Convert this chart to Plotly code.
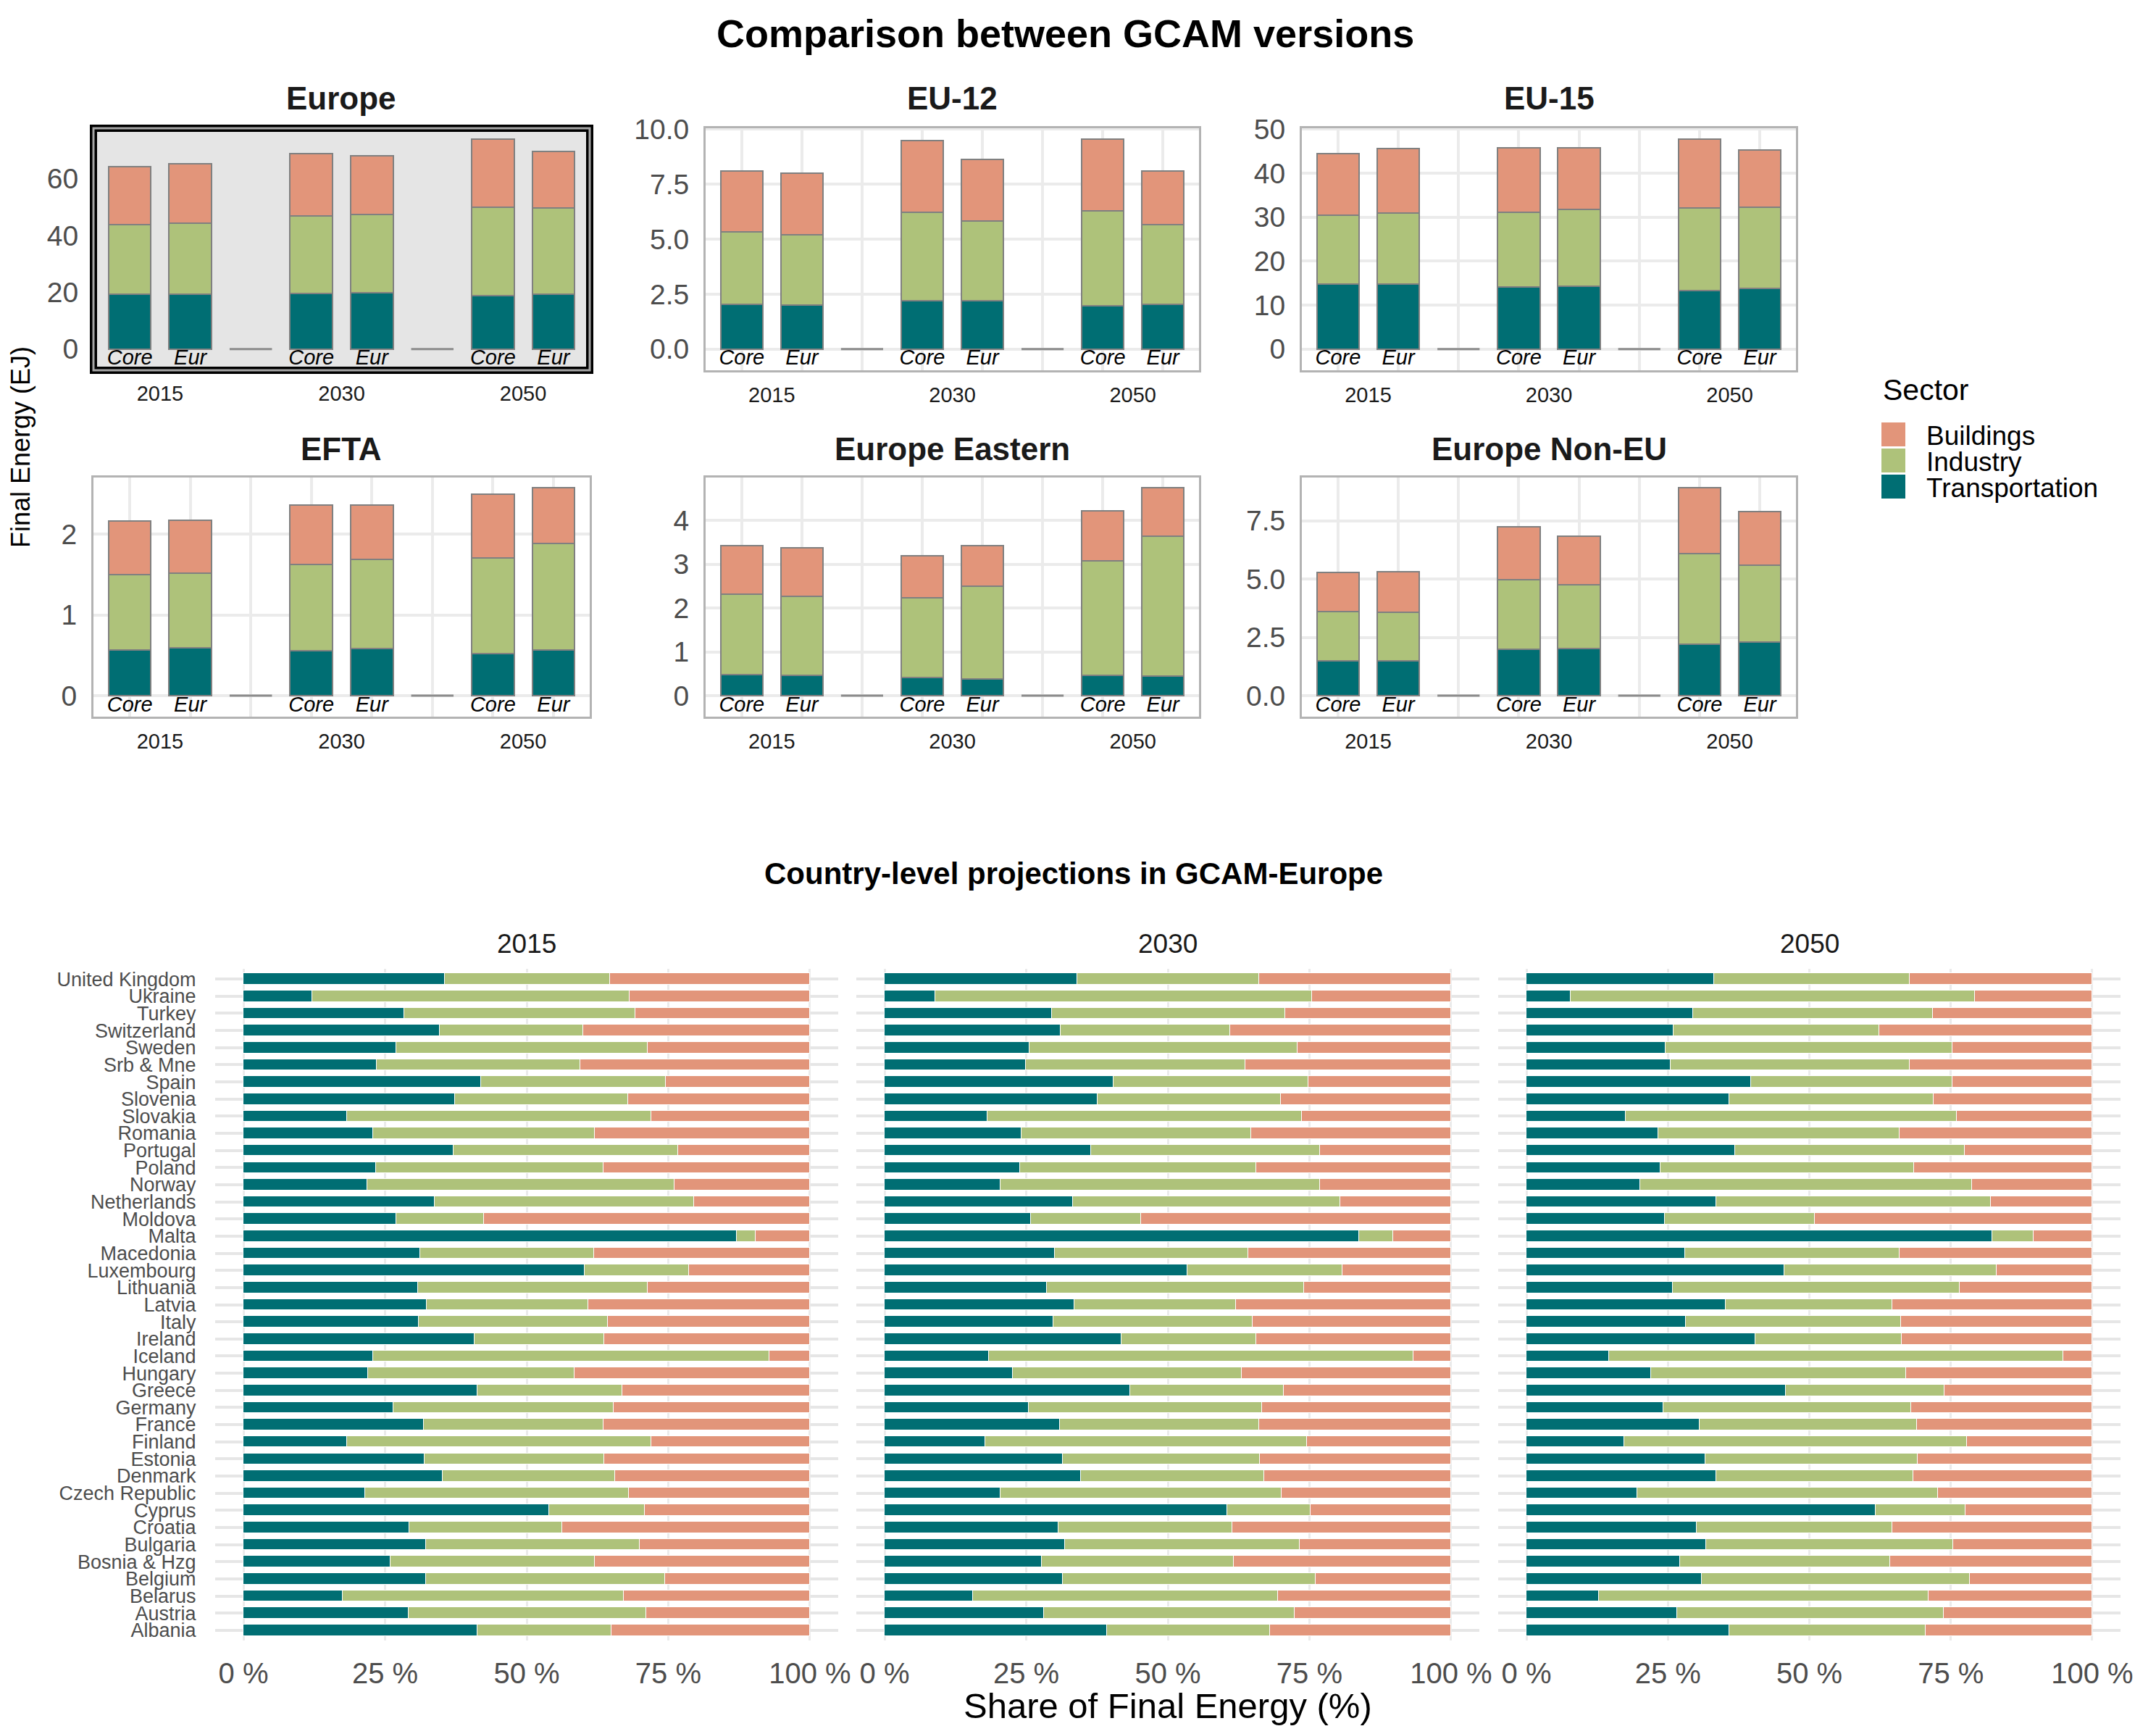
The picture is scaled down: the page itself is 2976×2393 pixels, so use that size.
import plotly.graph_objects as go

FONT = "Liberation Sans, Arial, sans-serif"
W, H = 2976, 2393

sectors = ["Transportation", "Industry", "Buildings"]
colors = {"Transportation": "#006e73", "Industry": "#aec27a", "Buildings": "#e2957a"}

# ---- top part: regional totals (EJ), order Core2015, Eur2015, Core2030, Eur2030, Core2050, Eur2050
regions = ["Europe", "EU-12", "EU-15", "EFTA", "Europe Eastern", "Europe Non-EU"]
years = ["2015", "2030", "2050"]
versions = ["Core", "Eur"]

trn = {
    "Europe": [19.4, 19.4, 19.5, 19.7, 18.7, 19.3],
    "EU-12": [2.03, 2.01, 2.19, 2.19, 1.97, 2.03],
    "EU-15": [14.7, 14.7, 14.2, 14.3, 13.3, 13.8],
    "EFTA": [0.57, 0.59, 0.56, 0.58, 0.52, 0.57],
    "Europe Eastern": [0.48, 0.47, 0.41, 0.38, 0.47, 0.44],
    "Europe Non-EU": [1.50, 1.50, 1.99, 2.01, 2.22, 2.29],
}
ind = {
    "Europe": [24.4, 24.8, 27.4, 27.6, 31.3, 30.4],
    "EU-12": [3.29, 3.18, 4.03, 3.62, 4.30, 3.64],
    "EU-15": [15.7, 16.2, 16.9, 17.5, 18.8, 18.4],
    "EFTA": [0.93, 0.93, 1.06, 1.11, 1.18, 1.31],
    "Europe Eastern": [1.83, 1.80, 1.83, 2.12, 2.60, 3.20],
    "Europe Non-EU": [2.12, 2.08, 2.97, 2.74, 3.88, 3.30],
}
bld = {
    "Europe": [20.4, 21.0, 21.9, 20.8, 24.0, 19.8],
    "EU-12": [2.78, 2.79, 3.25, 2.80, 3.29, 2.41],
    "EU-15": [14.0, 14.6, 14.6, 14.0, 15.7, 13.1],
    "EFTA": [0.66, 0.65, 0.74, 0.67, 0.79, 0.69],
    "Europe Eastern": [1.12, 1.11, 0.95, 0.93, 1.14, 1.10],
    "Europe Non-EU": [1.66, 1.75, 2.29, 2.10, 2.81, 2.29],
}
spacer = [0, 0]
ytick_step = {"Europe": 20, "EU-12": 2.5, "EU-15": 10, "EFTA": 1,
              "Europe Eastern": 1, "Europe Non-EU": 2.5}
ytick_fmt = {"Europe": "d", "EU-12": ".1f", "EU-15": "d", "EFTA": "d",
             "Europe Eastern": "d", "Europe Non-EU": ".1f"}

# ---- bottom part: country shares (%), GCAM-Europe
countries = ["United Kingdom", "Ukraine", "Turkey", "Switzerland", "Sweden", "Srb & Mne",
             "Spain", "Slovenia", "Slovakia", "Romania", "Portugal", "Poland", "Norway",
             "Netherlands", "Moldova", "Malta", "Macedonia", "Luxembourg", "Lithuania",
             "Latvia", "Italy", "Ireland", "Iceland", "Hungary", "Greece", "Germany",
             "France", "Finland", "Estonia", "Denmark", "Czech Republic", "Cyprus",
             "Croatia", "Bulgaria", "Bosnia & Hzg", "Belgium", "Belarus", "Austria", "Albania"]

trn_share = {
    "2015": [35.6, 12.1, 28.4, 34.6, 27.0, 23.5, 41.9, 37.4, 18.3, 22.9, 37.1, 23.4, 21.8,
             33.8, 27.0, 87.1, 31.2, 60.2, 30.8, 32.4, 30.9, 40.8, 22.9, 22.0, 41.3, 26.5,
             31.8, 18.3, 32.0, 35.1, 21.5, 54.0, 29.3, 32.2, 26.0, 32.2, 17.5, 29.2, 41.3],
    "2030": [34.0, 8.9, 29.5, 31.1, 25.6, 24.9, 40.4, 37.6, 18.2, 24.1, 36.5, 23.9, 20.5,
             33.3, 25.8, 83.8, 30.0, 53.5, 28.6, 33.5, 29.8, 41.8, 18.4, 22.6, 43.4, 25.4,
             31.0, 17.8, 31.4, 34.6, 20.5, 60.5, 30.7, 31.9, 27.8, 31.4, 15.6, 28.1, 39.3],
    "2050": [33.2, 7.8, 29.4, 26.0, 24.6, 25.5, 39.7, 35.8, 17.6, 23.3, 36.9, 23.7, 20.1,
             33.6, 24.5, 82.3, 28.1, 45.6, 25.8, 35.2, 28.2, 40.4, 14.6, 22.0, 45.8, 24.2,
             30.6, 17.3, 31.6, 33.6, 19.6, 61.7, 30.1, 31.7, 27.1, 31.0, 12.8, 26.6, 35.9],
}
ind_share = {
    "2015": [29.1, 56.0, 40.8, 25.4, 44.4, 36.0, 32.6, 30.5, 53.7, 39.1, 39.6, 40.1, 54.3,
             45.7, 15.5, 3.3, 30.7, 18.5, 40.6, 28.5, 33.4, 22.9, 69.9, 36.5, 25.6, 38.9,
             31.7, 53.7, 31.7, 30.5, 46.5, 16.8, 27.0, 37.7, 36.0, 42.2, 49.7, 41.9, 23.7],
    "2030": [32.1, 66.6, 41.2, 29.9, 47.3, 38.8, 34.4, 32.3, 55.5, 40.6, 40.4, 41.7, 56.4,
             47.1, 19.5, 6.0, 34.2, 27.3, 45.4, 28.5, 35.2, 23.8, 74.9, 40.4, 27.1, 41.2,
             35.1, 56.7, 34.8, 32.4, 49.6, 14.7, 30.7, 41.4, 33.8, 44.7, 53.9, 44.3, 28.7],
    "2050": [34.5, 71.4, 42.4, 36.3, 50.7, 42.2, 35.6, 36.1, 58.4, 42.7, 40.6, 44.8, 58.6,
             48.5, 26.4, 7.3, 37.8, 37.5, 50.8, 29.5, 38.0, 25.9, 80.3, 45.1, 28.1, 43.8,
             38.4, 60.6, 37.6, 34.8, 53.1, 15.9, 34.6, 43.7, 37.2, 47.3, 58.3, 47.1, 34.6],
}
pct_ticks = [0, 25, 50, 75, 100]

# ---- layout geometry (pixels of the 2976 x 2393 page); OFF = page body margin
OFF = 8
top_cols = [(129, 814), (974, 1655), (1797, 2479)]
top_rows = [(177, 511), (659, 989)]
bot_cols = [(297, 1157), (1182, 2042), (2068, 2927)]
bot_row = (1337, 2264)


def px(x):
    return (x - OFF) / W


def py(y):
    return 1 - (y - OFF) / H


def fx(a, b):
    return [px(a), px(b)]


def fy(a, b):
    return [py(b), py(a)]


fig = go.Figure()
shapes = []
annotations = []
BAR_W = 0.7

for i, reg in enumerate(regions):
    n = i + 1
    xr = "x" if n == 1 else f"x{n}"
    yr = "y" if n == 1 else f"y{n}"
    # slots: Core, Eur, (gap), Core, Eur, (gap), Core, Eur
    xpos = [yi * 3 + vi + 1 for yi in range(len(years)) for vi in range(len(versions))]
    vals = {"Transportation": trn[reg], "Industry": ind[reg], "Buildings": bld[reg]}
    for s in sectors:
        fig.add_trace(go.Bar(
            x=xpos, y=vals[s], width=BAR_W, name=s, showlegend=False,
            marker=dict(color=colors[s], line=dict(color="#808080", width=2)),
            xaxis=xr, yaxis=yr))
    # empty spacer categories drawn as flat grey strokes at zero
    gap_x, gap_y = [], []
    for k, v in enumerate(spacer):
        c = (k + 1) * 3
        gap_x += [c - BAR_W / 2, c + BAR_W / 2, None]
        gap_y += [v, v, None]
    fig.add_trace(go.Scatter(x=gap_x, y=gap_y, mode="lines", showlegend=False,
                             line=dict(color="#8c8c8c", width=3), xaxis=xr, yaxis=yr,
                             hoverinfo="skip"))
    fig.add_trace(go.Scatter(
        x=xpos, y=[0] * len(xpos), mode="text", showlegend=False,
        text=[f"<i>{v}</i>" for _ in years for v in versions],
        textposition="bottom center",
        textfont=dict(family=FONT, size=29, color="#000000"),
        xaxis=xr, yaxis=yr, hoverinfo="skip"))

    totals = [a + b + c for a, b, c in zip(trn[reg], ind[reg], bld[reg])]
    top = max(totals) * 1.05
    col, row = i % 3, i // 3
    is_eur = reg == "Europe"
    fig.update_layout(**{
        ("xaxis" if n == 1 else f"xaxis{n}"): dict(
            domain=fx(*top_cols[col]), anchor=yr, range=[0.4, 8.6], automargin=False,
            tickmode="array", tickvals=[1.5, 4.5, 7.5], ticktext=years,
            tickfont=dict(family=FONT, size=29, color="#1a1a1a"),
            showgrid=False, zeroline=False,
            showline=not is_eur, mirror=True, linecolor="#b3b3b3", linewidth=3,
            ticks="outside", ticklen=6, tickcolor="rgba(0,0,0,0)",
            minor=dict(tickmode="array", tickvals=list(range(1, 9)),
                       showgrid=not is_eur, gridcolor="#ebebeb", gridwidth=4, ticks=""),
            fixedrange=True),
        ("yaxis" if n == 1 else f"yaxis{n}"): dict(
            domain=fy(*top_rows[row]), anchor=xr, range=[-0.096 * top, top],
            automargin=False,
            dtick=ytick_step[reg], tick0=0, tickformat=ytick_fmt[reg],
            tickfont=dict(family=FONT, size=39, color="#4d4d4d"),
            showgrid=not is_eur, gridcolor="#ebebeb", gridwidth=4, zeroline=False,
            showline=not is_eur, mirror=True, linecolor="#b3b3b3", linewidth=3,
            ticks="outside", ticklen=12, tickcolor="rgba(0,0,0,0)"),
    })
    cx = px((top_cols[col][0] + top_cols[col][1]) / 2)
    ty = [135, 619][row]
    annotations.append(dict(text=f"<b>{reg}</b>", x=cx, y=py(ty), xref="paper",
                            yref="paper", showarrow=False, xanchor="center",
                            yanchor="middle", font=dict(family=FONT, size=44, color="#1a1a1a")))
    if is_eur:
        shapes.append(dict(type="rect", xref=f"{xr} domain", yref=f"{yr} domain",
                           x0=0, x1=1, y0=0, y1=1, fillcolor="#e5e5e5",
                           line=dict(width=0), layer="below"))
        shapes.append(dict(type="rect", xref=f"{xr} domain", yref=f"{yr} domain",
                           x0=0, x1=1, y0=0, y1=1, line=dict(color="#000000", width=10),
                           layer="above"))
        shapes.append(dict(type="rect", xref=f"{xr} domain", yref=f"{yr} domain",
                           x0=0, x1=1, y0=0, y1=1, line=dict(color="#a6a6a6", width=3),
                           layer="above"))

# ---- bottom panels
for j, yr_lab in enumerate(years):
    n = 7 + j
    xr, yr = f"x{n}", f"y{n}"
    t = trn_share[yr_lab]
    d = ind_share[yr_lab]
    b = [round(100 - a - c, 1) for a, c in zip(t, d)]
    for s, v in zip(sectors, [t, d, b]):
        fig.add_trace(go.Bar(
            y=countries, x=v, orientation="h", width=0.66, name=s, showlegend=False,
            marker=dict(color=colors[s], line=dict(color="#ffffff", width=1.5)),
            xaxis=xr, yaxis=yr))
    fig.update_layout(**{
        f"xaxis{n}": dict(
            domain=fx(*bot_cols[j]), anchor=yr, range=[-5, 105], automargin=False,
            tickmode="array", tickvals=pct_ticks, ticktext=[f"{p} %" for p in pct_ticks],
            tickfont=dict(family=FONT, size=40, color="#4d4d4d"),
            showgrid=True, gridcolor="#ebebeb", gridwidth=3, zeroline=False,
            showline=False, ticks="outside", ticklen=10, tickcolor="rgba(0,0,0,0)"),
        f"yaxis{n}": dict(
            domain=fy(*bot_row), anchor=xr, type="category", automargin=False,
            categoryorder="array", categoryarray=countries[::-1],
            range=[-0.6, len(countries) - 0.4],
            tickmode="array", tickvals=countries,
            showticklabels=(j == 0), matches=None if j == 0 else "y7",
            tickfont=dict(family=FONT, size=27, color="#4d4d4d"),
            showgrid=True, gridcolor="#e6e6e6", gridwidth=4, zeroline=False,
            showline=False, ticks="outside" if j == 0 else "", ticklen=20,
            tickcolor="rgba(0,0,0,0)"),
    })
    cx = px((bot_cols[j][0] + bot_cols[j][1]) / 2)
    annotations.append(dict(text=yr_lab, x=cx, y=py(1302), xref="paper", yref="paper",
                            showarrow=False, xanchor="center", yanchor="middle",
                            font=dict(family=FONT, size=37, color="#1a1a1a")))

# ---- titles
annotations += [
    dict(text="<b>Comparison between GCAM versions</b>", x=px(1470), y=py(46),
         font=dict(family=FONT, size=54, color="#000000")),
    dict(text="Final Energy (EJ)", x=px(28), y=py(617), textangle=-90,
         font=dict(family=FONT, size=36, color="#000000")),
    dict(text="<b>Country-level projections in GCAM-Europe</b>", x=px(1482), y=py(1205),
         font=dict(family=FONT, size=42, color="#000000")),
    dict(text="Share of Final Energy (%)", x=px(1612), y=py(2354),
         font=dict(family=FONT, size=49, color="#000000")),
]
for a in annotations[-4:]:
    a.update(xref="paper", yref="paper", showarrow=False, xanchor="center", yanchor="middle")

# ---- legend (Sector)
leg_x0, leg_top = 2597, 583
sw, gap = 33, 3
annotations.append(dict(text="Sector", x=px(leg_x0), y=py(538), xref="paper",
                        yref="paper", showarrow=False, xanchor="left", yanchor="middle",
                        font=dict(family=FONT, size=41, color="#000000")))
for k, s in enumerate(sectors[::-1]):
    y0 = leg_top + k * (sw + gap)
    shapes.append(dict(type="rect", xref="paper", yref="paper",
                       x0=px(leg_x0), x1=px(leg_x0 + sw),
                       y0=py(y0 + sw), y1=py(y0),
                       fillcolor=colors[s], line=dict(width=0)))
    annotations.append(dict(text=s, x=px(2657), y=py(y0 + sw / 2 + 2), xref="paper",
                            yref="paper", showarrow=False, xanchor="left", yanchor="middle",
                            font=dict(family=FONT, size=37, color="#000000")))

fig.update_layout(
    width=W, height=H, barmode="stack", bargap=0,
    margin=dict(l=0, r=0, t=0, b=0, autoexpand=False),
    paper_bgcolor="#ffffff", plot_bgcolor="rgba(0,0,0,0)",
    font=dict(family=FONT, color="#000000"),
    shapes=shapes, annotations=annotations, showlegend=False,
)

fig.write_html("out.html")
